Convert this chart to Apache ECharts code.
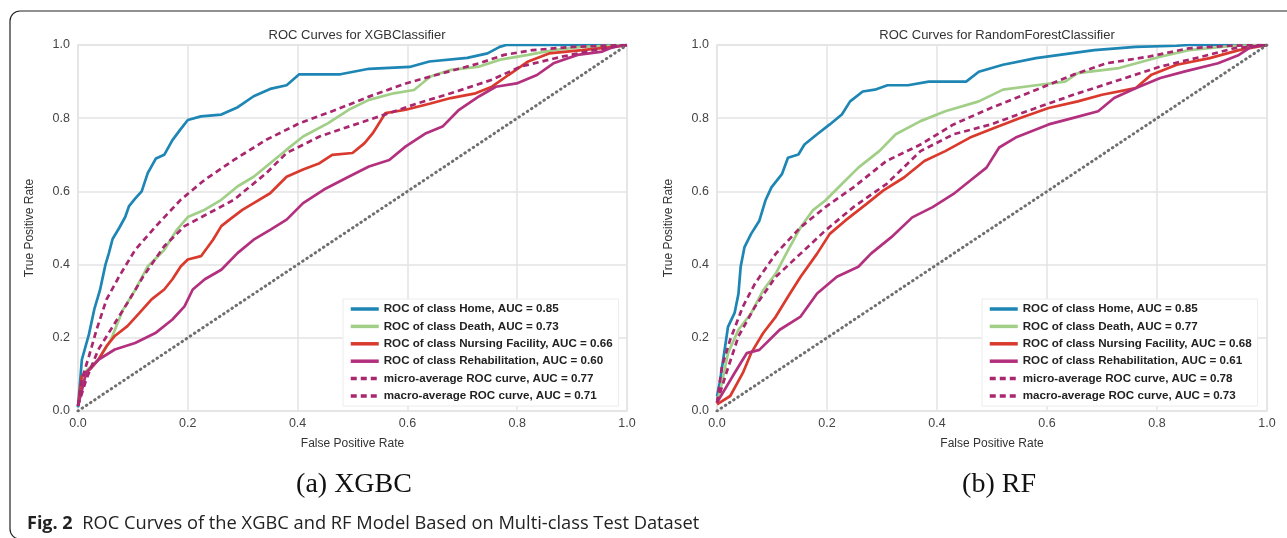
<!DOCTYPE html>
<html>
<head>
<meta charset="utf-8">
<title>ROC Curves</title>
<script src="https://cdn.jsdelivr.net/npm/echarts@6/dist/echarts.min.js"></script>
<style>
  html, body { margin: 0; padding: 0; background: #fff; }
  #chart { width: 1287px; height: 538px; }
</style>
</head>
<body>
<div id="chart"></div>
<script>
// 坐标轴刻度
const ticks = [0, 0.2, 0.4, 0.6, 0.8, 1.0]
const chance = [[0, 0], [1, 1]]

// XGBClassifier 各类别 ROC 曲线 [fpr, tpr]
const xgbHome = [[0, 0.01], [0.007, 0.14], [0.02, 0.21], [0.03, 0.28], [0.04, 0.33], [0.05, 0.4], [0.056, 0.43], [0.063, 0.47], [0.075, 0.5], [0.086, 0.53], [0.093, 0.56], [0.104, 0.58], [0.116, 0.6], [0.127, 0.65], [0.142, 0.69], [0.157, 0.7], [0.172, 0.74], [0.187, 0.77], [0.2, 0.795], [0.224, 0.805], [0.261, 0.81], [0.291, 0.83], [0.32, 0.86], [0.35, 0.88], [0.38, 0.89], [0.403, 0.92], [0.478, 0.92], [0.53, 0.935], [0.604, 0.94], [0.64, 0.955], [0.709, 0.965], [0.746, 0.977], [0.768, 0.995], [0.78, 1.0], [1, 1]]
const xgbDeath = [[0, 0.015], [0.015, 0.11], [0.037, 0.14], [0.06, 0.195], [0.082, 0.277], [0.104, 0.33], [0.127, 0.395], [0.157, 0.44], [0.18, 0.495], [0.2, 0.53], [0.231, 0.55], [0.261, 0.577], [0.291, 0.614], [0.32, 0.64], [0.35, 0.677], [0.38, 0.714], [0.41, 0.75], [0.455, 0.786], [0.493, 0.823], [0.53, 0.85], [0.575, 0.868], [0.612, 0.877], [0.642, 0.914], [0.679, 0.932], [0.731, 0.941], [0.769, 0.96], [0.82, 0.973], [0.866, 0.986], [0.918, 0.995], [1, 1]]
const xgbNursing = [[0, 0.014], [0.007, 0.095], [0.022, 0.114], [0.037, 0.14], [0.052, 0.177], [0.067, 0.205], [0.09, 0.232], [0.112, 0.268], [0.134, 0.305], [0.157, 0.332], [0.172, 0.36], [0.187, 0.395], [0.2, 0.414], [0.224, 0.423], [0.246, 0.468], [0.261, 0.505], [0.276, 0.523], [0.3, 0.55], [0.32, 0.568], [0.35, 0.595], [0.38, 0.64], [0.41, 0.66], [0.44, 0.677], [0.463, 0.7], [0.5, 0.705], [0.522, 0.732], [0.537, 0.759], [0.56, 0.814], [0.597, 0.823], [0.642, 0.84], [0.679, 0.855], [0.724, 0.868], [0.754, 0.886], [0.784, 0.918], [0.82, 0.955], [0.858, 0.977], [0.918, 0.986], [0.976, 0.995], [1, 1]]
const xgbRehab = [[0, 0.014], [0.015, 0.105], [0.037, 0.14], [0.067, 0.168], [0.104, 0.186], [0.142, 0.214], [0.172, 0.25], [0.194, 0.286], [0.209, 0.332], [0.231, 0.36], [0.261, 0.386], [0.291, 0.432], [0.32, 0.468], [0.35, 0.495], [0.38, 0.523], [0.41, 0.568], [0.448, 0.605], [0.493, 0.64], [0.53, 0.668], [0.567, 0.686], [0.597, 0.723], [0.634, 0.759], [0.664, 0.777], [0.694, 0.823], [0.731, 0.86], [0.761, 0.886], [0.799, 0.895], [0.836, 0.918], [0.866, 0.95], [0.91, 0.973], [0.955, 0.982], [0.976, 0.995], [1, 1]]
const xgbMicro = [[0, 0.014], [0.007, 0.086], [0.02, 0.15], [0.034, 0.223], [0.052, 0.305], [0.075, 0.368], [0.104, 0.44], [0.142, 0.505], [0.187, 0.577], [0.231, 0.632], [0.284, 0.686], [0.343, 0.741], [0.403, 0.786], [0.47, 0.823], [0.53, 0.859], [0.597, 0.895], [0.664, 0.923], [0.731, 0.95], [0.776, 0.973], [0.828, 0.986], [0.903, 0.995], [1, 1]]
const xgbMacro = [[0, 0.014], [0.015, 0.086], [0.037, 0.168], [0.06, 0.223], [0.09, 0.295], [0.119, 0.368], [0.157, 0.45], [0.194, 0.505], [0.239, 0.541], [0.284, 0.577], [0.343, 0.65], [0.38, 0.705], [0.44, 0.75], [0.493, 0.777], [0.567, 0.814], [0.619, 0.841], [0.679, 0.868], [0.754, 0.905], [0.806, 0.941], [0.881, 0.968], [0.94, 0.986], [1, 1]]

// RandomForestClassifier 各类别 ROC 曲线 [fpr, tpr]
const rfHome = [[0, 0.04], [0.005, 0.077], [0.013, 0.158], [0.02, 0.23], [0.032, 0.268], [0.039, 0.32], [0.043, 0.394], [0.05, 0.448], [0.062, 0.484], [0.077, 0.52], [0.088, 0.575], [0.099, 0.611], [0.118, 0.647], [0.129, 0.692], [0.148, 0.701], [0.159, 0.728], [0.182, 0.756], [0.205, 0.783], [0.227, 0.81], [0.242, 0.846], [0.265, 0.873], [0.287, 0.878], [0.31, 0.89], [0.347, 0.89], [0.385, 0.9], [0.453, 0.9], [0.476, 0.927], [0.52, 0.946], [0.58, 0.964], [0.686, 0.986], [0.761, 0.995], [0.836, 0.998], [0.858, 1.0], [1, 1]]
const rfDeath = [[0, 0.023], [0.009, 0.077], [0.02, 0.158], [0.039, 0.222], [0.062, 0.267], [0.084, 0.33], [0.107, 0.376], [0.129, 0.439], [0.152, 0.502], [0.174, 0.548], [0.197, 0.575], [0.227, 0.62], [0.257, 0.665], [0.295, 0.71], [0.325, 0.756], [0.37, 0.792], [0.415, 0.819], [0.476, 0.846], [0.52, 0.878], [0.58, 0.89], [0.633, 0.9], [0.656, 0.923], [0.731, 0.937], [0.806, 0.968], [0.858, 0.986], [0.94, 0.998], [1, 1]]
const rfNursing = [[0, 0.018], [0.024, 0.041], [0.047, 0.104], [0.062, 0.158], [0.084, 0.213], [0.107, 0.258], [0.129, 0.312], [0.152, 0.367], [0.182, 0.43], [0.205, 0.484], [0.233, 0.52], [0.272, 0.566], [0.302, 0.602], [0.34, 0.638], [0.377, 0.683], [0.415, 0.71], [0.46, 0.747], [0.505, 0.774], [0.55, 0.8], [0.603, 0.828], [0.656, 0.846], [0.7, 0.864], [0.761, 0.882], [0.79, 0.919], [0.836, 0.946], [0.896, 0.964], [0.949, 0.986], [1, 1]]
const rfRehab = [[0, 0.023], [0.032, 0.104], [0.054, 0.158], [0.077, 0.167], [0.114, 0.222], [0.152, 0.258], [0.182, 0.321], [0.218, 0.367], [0.257, 0.394], [0.28, 0.43], [0.317, 0.475], [0.355, 0.529], [0.392, 0.557], [0.43, 0.593], [0.46, 0.629], [0.49, 0.665], [0.513, 0.72], [0.543, 0.747], [0.573, 0.765], [0.603, 0.783], [0.648, 0.801], [0.693, 0.819], [0.722, 0.855], [0.761, 0.882], [0.806, 0.91], [0.851, 0.928], [0.911, 0.95], [0.949, 0.973], [0.971, 0.995], [1, 1]]
const rfMicro = [[0, 0.023], [0.009, 0.122], [0.024, 0.195], [0.047, 0.285], [0.069, 0.348], [0.107, 0.43], [0.152, 0.502], [0.197, 0.557], [0.248, 0.611], [0.308, 0.683], [0.37, 0.728], [0.43, 0.783], [0.498, 0.828], [0.573, 0.873], [0.648, 0.919], [0.708, 0.95], [0.784, 0.968], [0.858, 0.991], [0.934, 0.998], [1, 1]]
const rfMacro = [[0, 0.023], [0.017, 0.104], [0.039, 0.204], [0.069, 0.285], [0.107, 0.367], [0.152, 0.43], [0.197, 0.493], [0.248, 0.557], [0.308, 0.62], [0.37, 0.71], [0.43, 0.756], [0.498, 0.783], [0.58, 0.828], [0.648, 0.864], [0.722, 0.9], [0.806, 0.941], [0.881, 0.968], [0.94, 0.991], [1, 1]]

// 图例名称
const xgbNames = [
  'ROC of class Home, AUC = 0.85',
  'ROC of class Death, AUC = 0.73',
  'ROC of class Nursing Facility, AUC = 0.66',
  'ROC of class Rehabilitation, AUC = 0.60',
  'micro-average ROC curve, AUC = 0.77',
  'macro-average ROC curve, AUC = 0.71'
]
const rfNames = [
  'ROC of class Home, AUC = 0.85',
  'ROC of class Death, AUC = 0.77',
  'ROC of class Nursing Facility, AUC = 0.68',
  'ROC of class Rehabilitation, AUC = 0.61',
  'micro-average ROC curve, AUC = 0.78',
  'macro-average ROC curve, AUC = 0.73'
]
const colors = ['#1e86b4', '#a2cf88', '#d93a2d', '#b3307f', '#a8276e', '#a8276e']
const lineTypes = ['solid', 'solid', 'solid', 'solid', [6, 4], [6, 4]]

const font = '"Liberation Sans", Arial, sans-serif'

function makeAxis (grid, isX, name) {
  return {
    type: 'value',
    gridIndex: grid,
    min: ticks[0],
    max: ticks[ticks.length - 1],
    interval: 0.2,
    name: name,
    nameLocation: 'middle',
    nameGap: isX ? 27 : 42,
    nameTextStyle: { color: '#333', fontSize: 12, fontFamily: font },
    axisLine: { show: false },
    axisTick: { show: false },
    axisLabel: {
      color: '#444',
      fontSize: 12.5,
      fontFamily: font,
      margin: isX ? 6 : 8,
      formatter: v => v.toFixed(1)
    },
    splitLine: { show: true, lineStyle: { color: '#e3e3e3', width: 1.5 } }
  }
}

function makeSeries (grid, names, curves) {
  let list = curves.map((d, i) => ({
    type: 'line',
    name: names[i],
    xAxisIndex: grid,
    yAxisIndex: grid,
    data: d,
    symbol: 'none',
    silent: true,
    animation: false,
    color: colors[i],
    lineStyle: { color: colors[i], width: 2.7, type: lineTypes[i] }
  }))
  // 对角线
  list.push({
    type: 'line',
    name: 'chance' + grid,
    xAxisIndex: grid,
    yAxisIndex: grid,
    data: chance,
    symbol: 'none',
    silent: true,
    animation: false,
    lineStyle: { color: '#6f6f6f', width: 3, type: [0.5, 4.5], cap: 'round' }
  })
  return list
}

function makeLegend (left, names) {
  return {
    data: names,
    orient: 'vertical',
    left: left,
    top: 299,
    padding: [4, 6, 4, 6],
    itemWidth: 28,
    itemHeight: 14,
    itemGap: 5.4,
    selectedMode: false,
    backgroundColor: '#fff',
    borderColor: '#ececec',
    borderWidth: 1,
    itemStyle: { opacity: 0 },
    lineStyle: { width: 3.5 },
    textStyle: { color: '#222', fontSize: 11.6, fontWeight: 'bold', fontFamily: font }
  }
}

let chart = echarts.init(document.getElementById('chart'))
chart.setOption({
  animation: false,
  backgroundColor: '#fff',
  title: [
    { text: 'ROC Curves for XGBClassifier', left: 352, top: 24, textAlign: 'center', textStyle: { color: '#333', fontSize: 13, fontWeight: 'normal', fontFamily: font } },
    { text: 'ROC Curves for RandomForestClassifier', left: 992, top: 24, textAlign: 'center', textStyle: { color: '#333', fontSize: 13, fontWeight: 'normal', fontFamily: font } }
  ],
  legend: [makeLegend(343, xgbNames), makeLegend(982, rfNames)],
  grid: [
    { left: 78, top: 45, width: 549, height: 366, show: true, borderColor: '#e3e3e3', borderWidth: 1.5 },
    { left: 717, top: 45, width: 550, height: 366, show: true, borderColor: '#e3e3e3', borderWidth: 1.5 }
  ],
  xAxis: [makeAxis(0, true, 'False Positive Rate'), makeAxis(1, true, 'False Positive Rate')],
  yAxis: [makeAxis(0, false, 'True Positive Rate'), makeAxis(1, false, 'True Positive Rate')],
  series: makeSeries(0, xgbNames, [xgbHome, xgbDeath, xgbNursing, xgbRehab, xgbMicro, xgbMacro])
    .concat(makeSeries(1, rfNames, [rfHome, rfDeath, rfNursing, rfRehab, rfMicro, rfMacro])),
  graphic: [
    {
      type: 'rect',
      shape: { x: 10, y: 11, width: 1400, height: 528, r: 10 },
      style: { fill: 'none', stroke: '#222', lineWidth: 1.2 },
      silent: true
    },
    {
      type: 'text',
      x: 354, y: 485,
      style: { text: '(a) XGBC', fill: '#111', font: '28px "Liberation Serif", "Times New Roman", serif', align: 'center', verticalAlign: 'middle' }
    },
    {
      type: 'text',
      x: 999, y: 485,
      style: { text: '(b) RF', fill: '#111', font: '28px "Liberation Serif", "Times New Roman", serif', align: 'center', verticalAlign: 'middle' }
    },
    {
      type: 'text',
      x: 27, y: 524,
      style: {
        text: '{b|Fig. 2}  ROC Curves of the XGBC and RF Model Based on Multi-class Test Dataset',
        fill: '#222',
        font: '18.3px "Open Sans", sans-serif',
        verticalAlign: 'middle',
        rich: {
          b: { fontWeight: 'bold', fontSize: 18, fontFamily: '"Open Sans", sans-serif', fill: '#222' }
        }
      }
    }
  ]
})
</script>
</body>
</html>
